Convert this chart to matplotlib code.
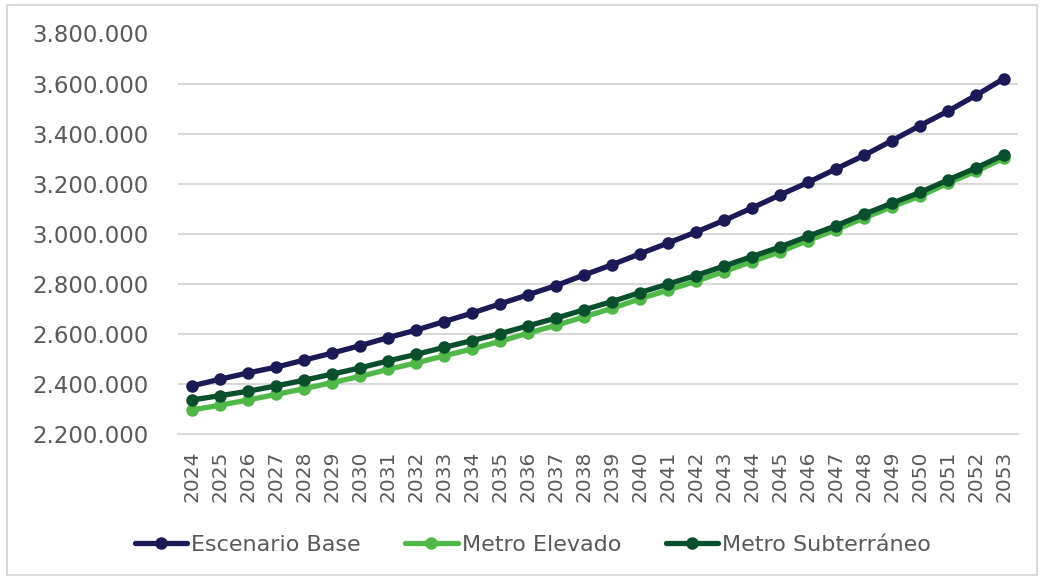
import matplotlib
matplotlib.use("Agg")
import matplotlib.pyplot as plt
from matplotlib.ticker import FuncFormatter, MultipleLocator
from matplotlib.patches import Rectangle

years = list(range(2024, 2054))

escenario_base = [
    2392000, 2419000, 2444000, 2467000, 2495000, 2523000, 2553000, 2585000,
    2615000, 2649000, 2683000, 2720000, 2756000, 2793000, 2835000, 2876000,
    2920000, 2963000, 3007000, 3053000, 3103000, 3155000, 3205000, 3259000,
    3313000, 3372000, 3432000, 3490000, 3553000, 3620000,
]
metro_elevado = [
    2296000, 2315000, 2336000, 2358000, 2381000, 2405000, 2430000, 2458000,
    2484000, 2512000, 2540000, 2570000, 2603000, 2634000, 2668000, 2702000,
    2740000, 2775000, 2810000, 2849000, 2889000, 2928000, 2973000, 3016000,
    3063000, 3108000, 3150000, 3202000, 3250000, 3302000,
]
metro_subterraneo = [
    2336000, 2353000, 2371000, 2392000, 2415000, 2439000, 2464000, 2492000,
    2518000, 2546000, 2573000, 2601000, 2632000, 2663000, 2696000, 2729000,
    2765000, 2799000, 2833000, 2871000, 2909000, 2947000, 2990000, 3032000,
    3078000, 3122000, 3165000, 3215000, 3263000, 3315000,
]

series = [
    ("Escenario Base", escenario_base, "#1b1a57"),
    ("Metro Elevado", metro_elevado, "#4fb848"),
    ("Metro Subterráneo", metro_subterraneo, "#0a4f2c"),
]

text_color = "#595959"
grid_color = "#d9d9d9"

fig = plt.figure(figsize=(10.41, 5.79), dpi=100)
ax = fig.add_axes([178 / 1041, 1 - 434 / 579, 840 / 1041, 400.5 / 579])

x = list(range(len(years)))
for name, vals, color in series:
    ax.plot(x, vals, color=color, lw=3.8, marker="o", ms=9,
            markeredgewidth=0, label=name, solid_capstyle="round", zorder=3)

ax.set_xlim(-0.5, len(years) - 0.5)
ax.set_ylim(2200000, 3800000)
ax.yaxis.set_major_locator(MultipleLocator(200000))
ax.yaxis.set_major_formatter(
    FuncFormatter(lambda v, p: f"{int(round(v)):,}".replace(",", ".")))
ax.set_xticks(x)
ax.set_xticklabels([str(y) for y in years], rotation=90)

ax.grid(axis="y", color=grid_color, lw=1.5, zorder=0)
ax.set_axisbelow(True)
for side in ("left", "right", "top"):
    ax.spines[side].set_visible(False)
ax.spines["bottom"].set_color(grid_color)
ax.spines["bottom"].set_linewidth(1.5)
ax.tick_params(axis="both", length=0, colors=text_color)
ax.tick_params(axis="y", labelsize=16.5, pad=21)
ax.tick_params(axis="x", labelsize=14.5, pad=12)

leg = fig.legend(loc="center", bbox_to_anchor=(0.512, 0.059), ncol=3,
                 frameon=False, fontsize=16, handlelength=2.35,
                 handletextpad=0.2, columnspacing=2.0)
for t in leg.get_texts():
    t.set_color(text_color)

fig.patches.append(Rectangle((7 / 1041, 4 / 579), 1030 / 1041, 570 / 579,
                             transform=fig.transFigure, fill=False,
                             edgecolor=grid_color, lw=1.5))

fig.savefig("out.png", dpi=100, facecolor="white")
